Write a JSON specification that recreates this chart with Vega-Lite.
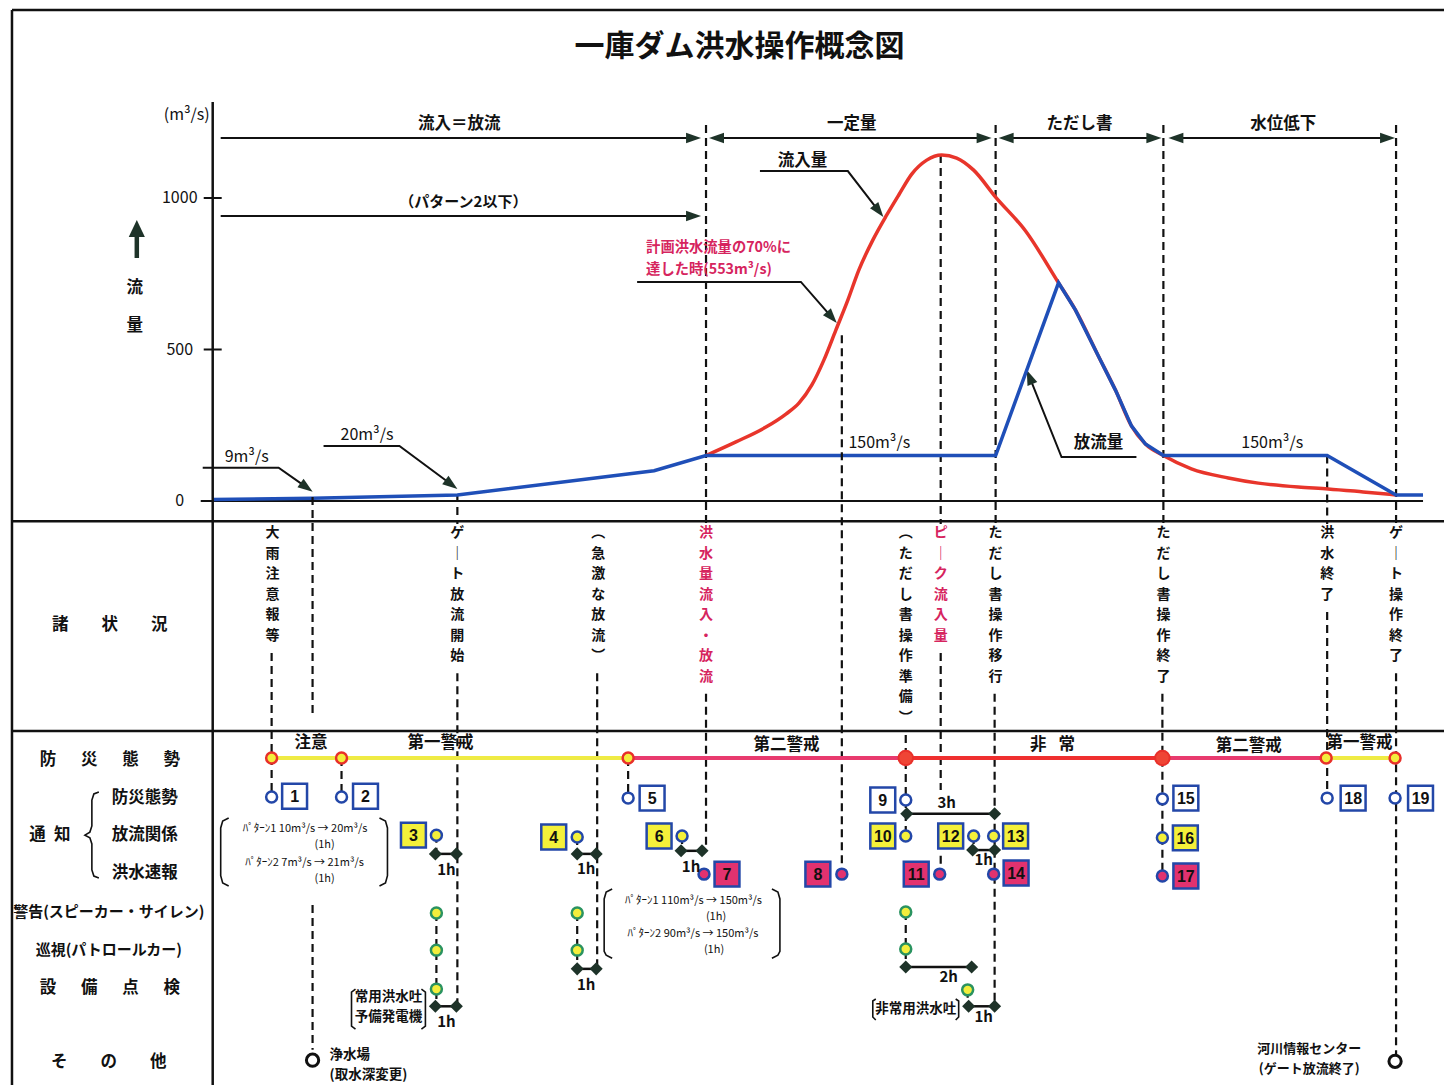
{
"$schema": "https://vega.github.io/schema/vega-lite/v6.json",
"width": 1446, "height": 1085,
"autosize": {"type": "fit", "contains": "padding"},
"padding": 0,
"background": "#ffffff",
"config": {"view": {"stroke": null}, "text": {"font": "Noto Sans CJK JP"}},
"resolve": {"scale": {"y": "independent"}},
"layer": [
{
"encoding": {
"x": {"field": "t", "type": "quantitative", "scale": {"domain": [-21.3, 123.3], "nice": false, "zero": false}, "axis": null},
"y": {"field": "q", "type": "quantitative", "scale": {"domain": [0, 1000], "range": [501, 198], "nice": false, "zero": false}, "axis": null}
},
"layer": [
{"data": {"values": [{"t":49.4,"q":1241,"q2":-76},{"t":72.9,"q":1142,"q2":-76},{"t":78.4,"q":1241,"q2":-76},{"t":95.2,"q":1241,"q2":-76},{"t":118.5,"q":1241,"q2":-76},{"t":111.6,"q":150,"q2":-76},{"t":24.5,"q":23,"q2":-76}]},
 "mark": {"type": "rule", "strokeDash": [8, 5], "strokeWidth": 2.2, "color": "#111111"},
 "encoding": {"y2": {"field": "q2"}}},
{"data": {"values": [{"t":-0.9,"t2":0.9,"q":500},{"t":-0.9,"t2":0.9,"q":1000},{"t":-1.2,"t2":121.2,"q":0},{"t":0.8,"t2":48.5,"q":1198},{"t":50.2,"t2":77.6,"q":1198},{"t":79.2,"t2":94.5,"q":1198},{"t":96.2,"t2":117.9,"q":1198},{"t":0.8,"t2":48.5,"q":941}]},
 "mark": {"type": "rule", "strokeWidth": 2, "color": "#111111"},
 "encoding": {"x2": {"field": "t2"}}},
{"data": {"values": [{"t":-7.6,"q":802,"q2":875}]},
 "mark": {"type": "rule", "strokeWidth": 4.5, "color": "#1e3329"},
 "encoding": {"y2": {"field": "q2"}}},
{"data": {"values": [
 {"g":"a","i":0,"t":-1,"q":110},{"g":"a","i":1,"t":6.6,"q":110},{"g":"a","i":2,"t":9.4,"q":45},
 {"g":"b","i":0,"t":11.1,"q":181.5},{"g":"b","i":1,"t":18.7,"q":181.5},{"g":"b","i":2,"t":23.9,"q":54.5},
 {"g":"c","i":0,"t":54.8,"q":1089},{"g":"c","i":1,"t":63.6,"q":1089},{"g":"c","i":2,"t":66.7,"q":957},
 {"g":"d","i":0,"t":42.5,"q":723},{"g":"d","i":1,"t":58.9,"q":723},{"g":"d","i":2,"t":62.0,"q":606},
 {"g":"e","i":0,"t":92.5,"q":145},{"g":"e","i":1,"t":85.0,"q":145},{"g":"e","i":2,"t":81.8,"q":409}]},
 "mark": {"type": "line", "strokeWidth": 2, "color": "#111111"},
 "encoding": {"detail": {"field": "g"}, "order": {"field": "i", "type": "quantitative"}}},
{"data": {"values": [{"t":9.4,"q":45,"a":126},{"t":23.9,"q":54.5,"a":126.5},{"t":66.7,"q":957,"a":142},{"t":62.0,"q":606,"a":139},{"t":81.8,"q":409,"a":338},
 {"t":48.15,"q":1198,"a":90},{"t":50.45,"q":1198,"a":270},{"t":77.25,"q":1198,"a":90},{"t":79.45,"q":1198,"a":270},{"t":94.25,"q":1198,"a":90},{"t":96.45,"q":1198,"a":270},{"t":117.65,"q":1198,"a":90},{"t":48.15,"q":941,"a":90}]},
 "mark": {"type": "point", "shape": "M0,-1L0.7,1L-0.7,1Z", "filled": true, "color": "#1e3329", "size": 225, "opacity": 1},
 "encoding": {"angle": {"field": "a", "type": "quantitative", "scale": null}}},
{"data": {"values": [{"t":-7.6,"q":899}]},
 "mark": {"type": "point", "shape": "M0,-1L0.95,1L-0.95,1Z", "filled": true, "color": "#1e3329", "size": 289, "opacity": 1}},
{"data": {"values": [{"t":49.4,"q":150},{"t":52.4,"q":195},{"t":55.4,"q":244},{"t":57.4,"q":287},{"t":58.7,"q":323},{"t":60.0,"q":383},{"t":61.2,"q":465},{"t":62.4,"q":564},{"t":63.6,"q":663},{"t":64.7,"q":762},{"t":66.1,"q":861},{"t":67.5,"q":944},{"t":68.7,"q":1010},{"t":70.0,"q":1079},{"t":71.5,"q":1125},{"t":73.0,"q":1142},{"t":74.5,"q":1132},{"t":76.2,"q":1092},{"t":78.4,"q":1003},{"t":81.4,"q":891},{"t":84.7,"q":720},{"t":86.4,"q":630},{"t":88.7,"q":478},{"t":90.4,"q":366},{"t":92.0,"q":248},{"t":93.4,"q":188},{"t":95.2,"q":150},{"t":98.0,"q":106},{"t":101.7,"q":76},{"t":104.7,"q":59},{"t":108.7,"q":46},{"t":111.7,"q":40},{"t":115.2,"q":30},{"t":118.5,"q":20}]},
 "mark": {"type": "line", "color": "#e8352b", "strokeWidth": 3.5, "interpolate": "monotone"}},
{"data": {"values": [{"t":0,"q":5},{"t":10,"q":9},{"t":24.5,"q":20},{"t":44.2,"q":100},{"t":49.4,"q":150},{"t":78.4,"q":150},{"t":84.7,"q":720},{"t":86.4,"q":630},{"t":88.7,"q":478},{"t":90.4,"q":366},{"t":92.0,"q":248},{"t":93.4,"q":188},{"t":95.2,"q":150},{"t":111.6,"q":150},{"t":118.5,"q":20},{"t":121.2,"q":20}]},
 "mark": {"type": "line", "color": "#1f4fb8", "strokeWidth": 3.5}},
{"data": {"values": [{"t":52.75,"q":1498,"s":"一庫ダム洪水操作概念図"}]},
 "mark": {"type": "text", "fontSize": 30, "fontWeight": "bold", "align": "center", "baseline": "middle", "color": "#111111"},
 "encoding": {"text": {"field": "s"}}},
{"data": {"values": [{"t":-7.8,"q":703,"s":"流"},{"t":-7.8,"q":578,"s":"量"},{"t":24.7,"q":1244,"s":"流入＝放流"},{"t":64.0,"q":1244,"s":"一定量"},{"t":86.8,"q":1244,"s":"ただし書"},{"t":107.2,"q":1244,"s":"水位低下"},{"t":59.05,"q":1122,"s":"流入量"},{"t":88.7,"q":191,"s":"放流量"}]},
 "mark": {"type": "text", "fontSize": 16.5, "fontWeight": "bold", "align": "center", "baseline": "middle", "color": "#111111"},
 "encoding": {"text": {"field": "s"}}},
{"data": {"values": [{"t":3.4,"q":145,"s":"9m³/s"},{"t":15.45,"q":218,"s":"20m³/s"},{"t":66.75,"q":191,"s":"150m³/s"},{"t":106.1,"q":191,"s":"150m³/s"},{"t":-2.6,"q":1274,"s":"(m³/s)"},{"t":-3.3,"q":1000,"s":"1000"},{"t":-3.3,"q":500,"s":"500"},{"t":-3.3,"q":0,"s":"0"}]},
 "mark": {"type": "text", "fontSize": 16, "align": "center", "baseline": "middle", "color": "#111111"},
 "encoding": {"text": {"field": "s"}}},
{"data": {"values": [{"t":25.1,"q":987,"s":"（パターン2以下）"}]},
 "mark": {"type": "text", "fontSize": 15, "fontWeight": "bold", "align": "center", "baseline": "middle", "color": "#111111"},
 "encoding": {"text": {"field": "s"}}},
{"data": {"values": [{"t":43.4,"q":834,"s":"計画洪水流量の70%に"},{"t":43.4,"q":762,"s":"達した時(553m³/s)"}]},
 "mark": {"type": "text", "fontSize": 14.3, "fontWeight": "bold", "align": "left", "baseline": "middle", "color": "#d6245e"},
 "encoding": {"text": {"field": "s"}}}
]
},
{
"encoding": {
"x": {"field": "t", "type": "quantitative", "scale": {"domain": [-21.3, 123.3], "nice": false, "zero": false}, "axis": null},
"y": {"field": "r", "type": "quantitative", "scale": {"domain": [0, 9], "range": [719.8, 1063.6], "nice": false, "zero": false}, "axis": null}
},
"layer": [
{"data": {"values": [
 {"t":-20.1,"t2":123.3,"r":-18.58,"r2":-18.58},{"t":-20.1,"t2":-20.1,"r":-18.58,"r2":9.6},{"t":-20.1,"t2":123.3,"r":-5.2,"r2":-5.2},{"t":-20.1,"t2":123.3,"r":0.29,"r2":0.29},{"t":0,"t2":0,"r":-16.17,"r2":9.6},
 {"t":22.3,"t2":24.4,"r":3.51,"r2":3.51},{"t":36.5,"t2":38.4,"r":3.51,"r2":3.51},{"t":46.9,"t2":49.0,"r":3.43,"r2":3.43},{"t":69.5,"t2":78.3,"r":2.46,"r2":2.46},{"t":76.1,"t2":78.3,"r":3.41,"r2":3.41},{"t":36.5,"t2":38.4,"r":6.52,"r2":6.52},{"t":22.3,"t2":24.4,"r":7.5,"r2":7.5},{"t":69.4,"t2":76.0,"r":6.47,"r2":6.47},{"t":75.7,"t2":78.3,"r":7.5,"r2":7.5}]},
 "mark": {"type": "rule", "strokeWidth": 2.5, "color": "#111111"},
 "encoding": {"x2": {"field": "t2"}, "y2": {"field": "r2"}}},
{"data": {"values": [
 {"t":5.9,"r":-1.75,"r2":2.02},{"t":10.0,"r":-5.83,"r2":-0.05},{"t":10.0,"r":4.85,"r2":8.64},{"t":12.9,"r":1.0,"r2":2.02},{"t":24.5,"r":-1.22,"r2":7.5},{"t":22.4,"r":3.01,"r2":3.51},{"t":22.4,"r":5.06,"r2":7.5},{"t":38.5,"r":-1.22,"r2":6.52},{"t":36.5,"r":3.07,"r2":3.51},{"t":36.5,"r":5.06,"r2":6.52},{"t":41.6,"r":1.0,"r2":2.05},{"t":49.4,"r":-0.68,"r2":3.43},{"t":47.0,"r":3.04,"r2":3.43},{"t":63.0,"r":-10.07,"r2":3.83},{"t":69.4,"r":0.4,"r2":3.04},{"t":69.4,"r":5.03,"r2":6.44},{"t":72.9,"r":-1.75,"r2":1.84},{"t":72.9,"r":3.56,"r2":4.03},{"t":76.2,"r":3.04,"r2":3.38},{"t":75.6,"r":7.07,"r2":7.5},{"t":78.3,"r":-0.68,"r2":7.5},{"t":95.1,"r":-0.68,"r2":4.09},{"t":111.6,"r":-2.82,"r2":2.05},{"t":118.5,"r":-1.22,"r2":8.93}]},
 "mark": {"type": "rule", "strokeDash": [8, 5], "strokeWidth": 2.2, "color": "#111111"},
 "encoding": {"y2": {"field": "r2"}}},
{"data": {"values": [{"t":5.9,"t2":41.6,"r":1.0,"lv":"注意・第一警戒"},{"t":41.6,"t2":69.4,"r":1.0,"lv":"第二警戒"},{"t":69.4,"t2":95.1,"r":1.0,"lv":"非常"},{"t":95.1,"t2":111.5,"r":1.0,"lv":"第二警戒"},{"t":111.5,"t2":118.4,"r":1.0,"lv":"注意・第一警戒"}]},
 "mark": {"type": "rule", "strokeWidth": 4},
 "encoding": {"x2": {"field": "t2"}, "color": {"field": "lv", "type": "nominal", "scale": {"domain": ["注意・第一警戒", "第二警戒", "非常"], "range": ["#efeb44", "#e83a6e", "#ef2f2f"]}, "legend": null}}},
{"data": {"values": [
 {"g":"p1L","i":0,"t":1.6,"r":2.57},{"g":"p1L","i":1,"t":1.0,"r":2.65},{"g":"p1L","i":2,"t":0.8,"r":2.83},{"g":"p1L","i":3,"t":0.8,"r":4.08},{"g":"p1L","i":4,"t":1.0,"r":4.27},{"g":"p1L","i":5,"t":1.6,"r":4.35},
 {"g":"p1R","i":0,"t":16.7,"r":2.57},{"g":"p1R","i":1,"t":17.3,"r":2.65},{"g":"p1R","i":2,"t":17.5,"r":2.83},{"g":"p1R","i":3,"t":17.5,"r":4.08},{"g":"p1R","i":4,"t":17.3,"r":4.27},{"g":"p1R","i":5,"t":16.7,"r":4.35},
 {"g":"p2L","i":0,"t":40.0,"r":4.43},{"g":"p2L","i":1,"t":39.4,"r":4.51},{"g":"p2L","i":2,"t":39.2,"r":4.69},{"g":"p2L","i":3,"t":39.2,"r":6.06},{"g":"p2L","i":4,"t":39.4,"r":6.16},{"g":"p2L","i":5,"t":40.0,"r":6.24},
 {"g":"p2R","i":0,"t":56.0,"r":4.43},{"g":"p2R","i":1,"t":56.6,"r":4.51},{"g":"p2R","i":2,"t":56.8,"r":4.69},{"g":"p2R","i":3,"t":56.8,"r":6.06},{"g":"p2R","i":4,"t":56.6,"r":6.16},{"g":"p2R","i":5,"t":56.0,"r":6.24},
 {"g":"jL","i":0,"t":14.3,"r":7.05},{"g":"jL","i":1,"t":13.9,"r":7.13},{"g":"jL","i":2,"t":13.9,"r":8.02},{"g":"jL","i":3,"t":14.3,"r":8.1},
 {"g":"jR","i":0,"t":20.9,"r":7.05},{"g":"jR","i":1,"t":21.3,"r":7.13},{"g":"jR","i":2,"t":21.3,"r":8.02},{"g":"jR","i":3,"t":20.9,"r":8.1},
 {"g":"hL","i":0,"t":66.4,"r":7.31},{"g":"hL","i":1,"t":66.1,"r":7.36},{"g":"hL","i":2,"t":66.1,"r":7.78},{"g":"hL","i":3,"t":66.4,"r":7.86},
 {"g":"hR","i":0,"t":74.4,"r":7.31},{"g":"hR","i":1,"t":74.7,"r":7.36},{"g":"hR","i":2,"t":74.7,"r":7.78},{"g":"hR","i":3,"t":74.4,"r":7.86},
 {"g":"br","i":0,"t":-11.4,"r":1.89},{"g":"br","i":1,"t":-11.9,"r":1.94},{"g":"br","i":2,"t":-12.1,"r":2.1},{"g":"br","i":3,"t":-12.1,"r":2.78},{"g":"br","i":4,"t":-12.3,"r":2.94},{"g":"br","i":5,"t":-12.8,"r":3.02},{"g":"br","i":6,"t":-12.3,"r":3.09},{"g":"br","i":7,"t":-12.1,"r":3.25},{"g":"br","i":8,"t":-12.1,"r":3.93},{"g":"br","i":9,"t":-11.9,"r":4.09},{"g":"br","i":10,"t":-11.4,"r":4.14}]},
 "mark": {"type": "line", "strokeWidth": 1.6, "color": "#111111"},
 "encoding": {"detail": {"field": "g"}, "order": {"field": "i", "type": "quantitative"}}},
{"data": {"values": [{"t":5.9,"r":1.0},{"t":12.9,"r":1.0},{"t":41.6,"r":1.0},{"t":111.5,"r":1.0},{"t":118.4,"r":1.0}]},
 "mark": {"type": "point", "shape": "circle", "filled": true, "fill": "#f3ee3c", "stroke": "#e8302a", "strokeWidth": 2.5, "size": 120, "opacity": 1}},
{"data": {"values": [{"t":69.4,"r":1.0},{"t":95.1,"r":1.0}]},
 "mark": {"type": "point", "shape": "circle", "filled": true, "fill": "#ef4535", "stroke": "#e8302a", "strokeWidth": 2, "size": 210, "opacity": 1}},
{"data": {"values": [
 {"t":8.2,"r":2.0,"n":"1","cat":"防災態勢"},{"t":15.3,"r":2.0,"n":"2","cat":"防災態勢"},{"t":44.0,"r":2.05,"n":"5","cat":"防災態勢"},{"t":67.1,"r":2.1,"n":"9","cat":"防災態勢"},{"t":97.45,"r":2.05,"n":"15","cat":"防災態勢"},{"t":114.2,"r":2.05,"n":"18","cat":"防災態勢"},{"t":120.95,"r":2.05,"n":"19","cat":"防災態勢"},
 {"t":20.1,"r":3.02,"n":"3","cat":"放流関係"},{"t":34.15,"r":3.07,"n":"4","cat":"放流関係"},{"t":44.7,"r":3.04,"n":"6","cat":"放流関係"},{"t":67.1,"r":3.04,"n":"10","cat":"放流関係"},{"t":73.9,"r":3.04,"n":"12","cat":"放流関係"},{"t":80.4,"r":3.04,"n":"13","cat":"放流関係"},{"t":97.4,"r":3.09,"n":"16","cat":"放流関係"},
 {"t":51.5,"r":4.04,"n":"7","cat":"洪水速報"},{"t":60.6,"r":4.04,"n":"8","cat":"洪水速報"},{"t":70.45,"r":4.04,"n":"11","cat":"洪水速報"},{"t":80.45,"r":4.01,"n":"14","cat":"洪水速報"},{"t":97.45,"r":4.09,"n":"17","cat":"洪水速報"}]},
 "layer": [
  {"mark": {"type": "point", "shape": "square", "filled": true, "stroke": "#2347a8", "strokeWidth": 2.5, "size": 620, "opacity": 1},
   "encoding": {"fill": {"field": "cat", "type": "nominal", "scale": {"domain": ["防災態勢", "放流関係", "洪水速報"], "range": ["#ffffff", "#f4f03a", "#e2326f"]}, "legend": null}}},
  {"mark": {"type": "text", "fontSize": 16, "fontWeight": "bold", "font": "Liberation Sans", "align": "center", "baseline": "middle", "color": "#111111", "dy": 1},
   "encoding": {"text": {"field": "n"}}}
 ]},
{"data": {"values": [
 {"t":5.9,"r":2.02,"cat":"防災態勢"},{"t":12.9,"r":2.02,"cat":"防災態勢"},{"t":41.6,"r":2.05,"cat":"防災態勢"},{"t":69.4,"r":2.1,"cat":"防災態勢"},{"t":95.1,"r":2.07,"cat":"防災態勢"},{"t":111.6,"r":2.05,"cat":"防災態勢"},{"t":118.4,"r":2.05,"cat":"防災態勢"},
 {"t":22.4,"r":3.02,"cat":"放流関係"},{"t":36.5,"r":3.07,"cat":"放流関係"},{"t":47.0,"r":3.04,"cat":"放流関係"},{"t":69.4,"r":3.04,"cat":"放流関係"},{"t":76.2,"r":3.04,"cat":"放流関係"},{"t":78.2,"r":3.04,"cat":"放流関係"},{"t":95.1,"r":3.09,"cat":"放流関係"},
 {"t":49.2,"r":4.04,"cat":"洪水速報"},{"t":63.0,"r":4.04,"cat":"洪水速報"},{"t":72.8,"r":4.04,"cat":"洪水速報"},{"t":78.2,"r":4.04,"cat":"洪水速報"},{"t":95.1,"r":4.09,"cat":"洪水速報"}]},
 "mark": {"type": "point", "shape": "circle", "filled": true, "stroke": "#2347a8", "strokeWidth": 2.5, "size": 120, "opacity": 1},
 "encoding": {"fill": {"field": "cat", "type": "nominal", "scale": {"domain": ["防災態勢", "放流関係", "洪水速報"], "range": ["#ffffff", "#f4f03a", "#e2326f"]}, "legend": null}}},
{"data": {"values": [{"t":22.4,"r":5.06},{"t":22.4,"r":6.03},{"t":22.4,"r":7.05},{"t":36.5,"r":5.06},{"t":36.5,"r":6.03},{"t":69.4,"r":5.03},{"t":69.4,"r":6.0},{"t":75.6,"r":7.07}]},
 "mark": {"type": "point", "shape": "circle", "filled": true, "fill": "#f3ee3c", "stroke": "#2a9360", "strokeWidth": 2.5, "size": 120, "opacity": 1}},
{"data": {"values": [{"t":22.3,"r":3.51},{"t":24.4,"r":3.51},{"t":36.5,"r":3.51},{"t":38.4,"r":3.51},{"t":46.9,"r":3.43},{"t":49.0,"r":3.43},{"t":69.5,"r":2.46},{"t":78.3,"r":2.46},{"t":76.1,"r":3.41},{"t":78.3,"r":3.41},{"t":36.5,"r":6.52},{"t":38.4,"r":6.52},{"t":22.3,"r":7.5},{"t":24.4,"r":7.5},{"t":69.4,"r":6.47},{"t":76.0,"r":6.47},{"t":75.7,"r":7.5},{"t":78.3,"r":7.5}]},
 "mark": {"type": "point", "shape": "diamond", "filled": true, "color": "#1e3329", "size": 170, "opacity": 1}},
{"data": {"values": [{"t":10.0,"r":8.91},{"t":118.4,"r":8.94}]},
 "mark": {"type": "point", "shape": "circle", "filled": true, "fill": "#ffffff", "stroke": "#111111", "strokeWidth": 3, "size": 150, "opacity": 1}},
{"data": {"values": [
 {"t":6.0,"r":-5.07,"s":"大\n雨\n注\n意\n報\n等"},
 {"t":24.5,"r":-5.07,"s":"ゲ\n｜\nト\n放\n流\n開\n始"},
 {"t":38.6,"r":-5.07,"s":"︵\n急\n激\nな\n放\n流\n︶"},
 {"t":69.4,"r":-5.07,"s":"︵\nた\nだ\nし\n書\n操\n作\n準\n備\n︶"},
 {"t":78.4,"r":-5.07,"s":"た\nだ\nし\n書\n操\n作\n移\n行"},
 {"t":95.2,"r":-5.07,"s":"た\nだ\nし\n書\n操\n作\n終\n了"},
 {"t":111.6,"r":-5.07,"s":"洪\n水\n終\n了"},
 {"t":118.5,"r":-5.07,"s":"ゲ\n｜\nト\n操\n作\n終\n了"}]},
 "mark": {"type": "text", "fontSize": 14, "fontWeight": "bold", "lineBreak": "\n", "lineHeight": 20.5, "align": "center", "baseline": "top", "color": "#111111"},
 "encoding": {"text": {"field": "s"}}},
{"data": {"values": [
 {"t":49.4,"r":-5.07,"s":"洪\n水\n量\n流\n入\n・\n放\n流"},
 {"t":72.9,"r":-5.07,"s":"ピ\n｜\nク\n流\n入\n量"}]},
 "mark": {"type": "text", "fontSize": 14, "fontWeight": "bold", "lineBreak": "\n", "lineHeight": 20.5, "align": "center", "baseline": "top", "color": "#d6245e"},
 "encoding": {"text": {"field": "s"}}},
{"data": {"values": [
 {"t":-10.3,"r":-2.48,"s":"諸\u3000\u3000状\u3000\u3000況"},
 {"t":-10.3,"r":1.05,"s":"防\u3000\u2002災\u3000\u2002態\u3000\u2002勢"},
 {"t":-16.3,"r":3.02,"s":"通\u2002知"},
 {"t":-6.8,"r":2.05,"s":"防災態勢"},
 {"t":-6.8,"r":3.02,"s":"放流関係"},
 {"t":-6.8,"r":4.0,"s":"洪水速報"},
 {"t":-10.3,"r":7.02,"s":"設\u3000\u2002備\u3000\u2002点\u3000\u2002検"},
 {"t":-10.4,"r":8.96,"s":"そ\u3000\u3000の\u3000\u3000他"},
 {"t":9.85,"r":0.61,"s":"注意"},
 {"t":22.8,"r":0.61,"s":"第一警戒"},
 {"t":57.45,"r":0.66,"s":"第二警戒"},
 {"t":84.1,"r":0.66,"s":"非\u2002 常"},
 {"t":103.75,"r":0.69,"s":"第二警戒"},
 {"t":114.85,"r":0.61,"s":"第一警戒"}]},
 "mark": {"type": "text", "fontSize": 16.5, "fontWeight": "bold", "align": "center", "baseline": "middle", "color": "#111111"},
 "encoding": {"text": {"field": "s"}}},
{"data": {"values": [{"t":-10.4,"r":5.03,"s":"警告(スピーカー・サイレン)"},{"t":-10.4,"r":6.03,"s":"巡視(パトロールカー)"}]},
 "mark": {"type": "text", "fontSize": 15, "fontWeight": "bold", "align": "center", "baseline": "middle", "color": "#111111"},
 "encoding": {"text": {"field": "s"}}},
{"data": {"values": [{"t":23.4,"r":3.93,"s":"1h"},{"t":37.4,"r":3.9,"s":"1h"},{"t":47.9,"r":3.85,"s":"1h"},{"t":73.5,"r":2.18,"s":"3h"},{"t":77.2,"r":3.67,"s":"1h"},{"t":37.4,"r":6.94,"s":"1h"},{"t":23.4,"r":7.91,"s":"1h"},{"t":73.7,"r":6.73,"s":"2h"},{"t":77.2,"r":7.78,"s":"1h"}]},
 "mark": {"type": "text", "fontSize": 15, "fontWeight": "bold", "align": "center", "baseline": "middle", "color": "#111111"},
 "encoding": {"text": {"field": "s"}}},
{"data": {"values": [{"t":9.25,"r":2.86,"s":"ﾊﾟﾀｰﾝ1  10m³/s → 20m³/s"},{"t":11.2,"r":3.28,"s":"(1h)"},{"t":9.2,"r":3.75,"s":"ﾊﾟﾀｰﾝ2  7m³/s → 21m³/s"},{"t":11.2,"r":4.17,"s":"(1h)"},
 {"t":48.15,"r":4.74,"s":"ﾊﾟﾀｰﾝ1  110m³/s → 150m³/s"},{"t":50.4,"r":5.16,"s":"(1h)"},{"t":48.1,"r":5.6,"s":"ﾊﾟﾀｰﾝ2  90m³/s → 150m³/s"},{"t":50.2,"r":6.03,"s":"(1h)"}]},
 "mark": {"type": "text", "fontSize": 11, "align": "center", "baseline": "middle", "color": "#111111"},
 "encoding": {"text": {"field": "s"}}},
{"data": {"values": [{"t":17.6,"r":7.26,"s":"常用洪水吐"},{"t":17.6,"r":7.79,"s":"予備発電機"},{"t":70.4,"r":7.57,"s":"非常用洪水吐"}]},
 "mark": {"type": "text", "fontSize": 13.5, "fontWeight": "bold", "align": "center", "baseline": "middle", "color": "#111111"},
 "encoding": {"text": {"field": "s"}}},
{"data": {"values": [{"t":109.8,"r":8.63,"s":"河川情報センター"},{"t":109.8,"r":9.15,"s":"(ゲート放流終了)"}]},
 "mark": {"type": "text", "fontSize": 13, "fontWeight": "bold", "align": "center", "baseline": "middle", "color": "#111111"},
 "encoding": {"text": {"field": "s"}}},
{"data": {"values": [{"t":11.7,"r":8.78,"s":"浄水場"},{"t":11.7,"r":9.3,"s":"(取水深変更)"}]},
 "mark": {"type": "text", "fontSize": 13.5, "fontWeight": "bold", "align": "left", "baseline": "middle", "color": "#111111"},
 "encoding": {"text": {"field": "s"}}}
]
}
]
}
